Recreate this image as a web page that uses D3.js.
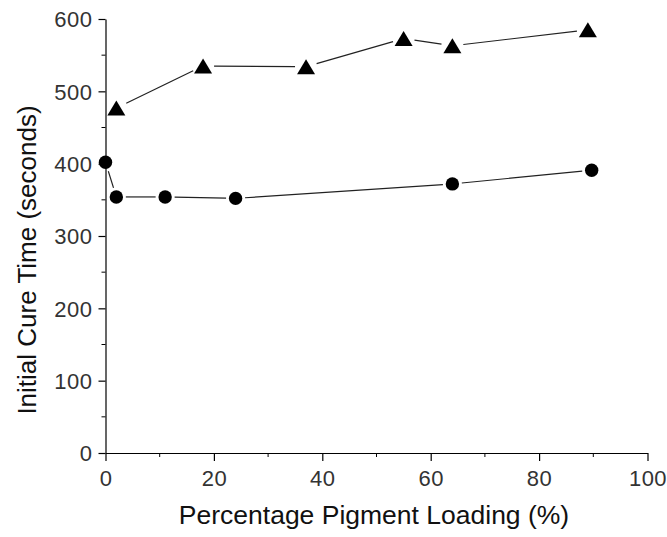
<!DOCTYPE html>
<html>
<head>
<meta charset="utf-8">
<script src="https://cdn.jsdelivr.net/npm/d3@7/dist/d3.min.js"></script>
<style>
  html, body { margin: 0; padding: 0; background: #fff; }
  svg { display: block; }
  text { font-family: "Liberation Sans", Arial, sans-serif; }
</style>
</head>
<body>
<svg id="chart" width="667" height="537"></svg>
<script>
// ---- data ----
const triangleX = [2, 18, 37, 55, 64, 89];
const triangleY = [477, 535, 534, 573, 563, 585];
const circleX = [0, 2, 11, 24, 64, 89.7];
const circleY = [402, 354, 354, 352, 372, 391];
const xTicks = [0, 20, 40, 60, 80, 100];
const xMinorTicks = [10, 30, 50, 70, 90];
const yTicks = [0, 100, 200, 300, 400, 500, 600];
const yMinorTicks = [50, 150, 250, 350, 450, 550];
const xTitle = "Percentage Pigment Loading (%)";
const yTitle = "Initial Cure Time (seconds)";

// ---- layout ----
const svg = d3.select("#chart");
const plotLeft = 105.5, plotRight = 647.5, plotTop = 19, plotBottom = 453;
const x = d3.scaleLinear().domain([0, 100]).range([plotLeft, plotRight]);
const y = d3.scaleLinear().domain([0, 600]).range([plotBottom, plotTop]);

// axes
const xAxis = d3.axisBottom(x).tickValues(xTicks).tickSize(8).tickSizeOuter(0).tickPadding(9);
const yAxis = d3.axisLeft(y).tickValues(yTicks).tickSize(7).tickSizeOuter(0).tickPadding(6);

const gx = svg.append("g").attr("transform", `translate(0,${plotBottom})`).call(xAxis);
const gy = svg.append("g").attr("transform", `translate(${plotLeft},0)`).call(yAxis);

// minor ticks
svg.append("g").selectAll("line").data(xMinorTicks).join("line")
  .attr("x1", d => x(d)).attr("x2", d => x(d))
  .attr("y1", plotBottom).attr("y2", plotBottom + 4)
  .attr("stroke", "#000").attr("stroke-width", 1);
svg.append("g").selectAll("line").data(yMinorTicks).join("line")
  .attr("x1", plotLeft).attr("x2", plotLeft - 4)
  .attr("y1", d => y(d)).attr("y2", d => y(d))
  .attr("stroke", "#000").attr("stroke-width", 1);

[gx, gy].forEach(g => {
  g.select(".domain").attr("stroke", "#000").attr("stroke-width", 1.2);
  g.selectAll(".tick line").attr("stroke", "#000").attr("stroke-width", 1.2);
  g.selectAll(".tick text")
    .attr("font-family", "'Liberation Sans', Arial, sans-serif")
    .attr("font-size", 22)
    .attr("fill", "#333")
    .style("letter-spacing", "0.5px");
});
gx.selectAll(".tick text").attr("dy", "0.71em");
gy.selectAll(".tick text").attr("dy", "0.36em");

// titles
svg.append("text")
  .attr("x", 374).attr("y", 524)
  .attr("text-anchor", "middle")
  .attr("font-size", 26.5)
  .attr("fill", "#111")
  .text(xTitle);
svg.append("text")
  .attr("transform", `translate(36,260) rotate(-90)`)
  .attr("text-anchor", "middle")
  .attr("font-size", 26)
  .attr("fill", "#111")
  .text(yTitle);

// connecting lines with gaps near markers
function drawSegments(xs, ys, gapA, gapB) {
  const pts = xs.map((d, i) => [x(d), y(ys[i])]);
  const segs = [];
  for (let i = 0; i < pts.length - 1; i++) {
    const [x1, y1] = pts[i], [x2, y2] = pts[i + 1];
    const dx = x2 - x1, dy = y2 - y1, L = Math.hypot(dx, dy);
    if (L <= gapA + gapB) continue;
    const ux = dx / L, uy = dy / L;
    segs.push([x1 + ux * gapA, y1 + uy * gapA, x2 - ux * gapB, y2 - uy * gapB]);
  }
  svg.append("g").selectAll("line").data(segs).join("line")
    .attr("x1", d => d[0]).attr("y1", d => d[1])
    .attr("x2", d => d[2]).attr("y2", d => d[3])
    .attr("stroke", "#222").attr("stroke-width", 1.2);
}
drawSegments(triangleX, triangleY, 11, 11);
drawSegments(circleX, circleY, 9.5, 9.5);

// markers
const triW = 18, triH = 15;
svg.append("g").selectAll("path").data(triangleX).join("path")
  .attr("d", (d, i) => {
    const cx = x(d), cy = y(triangleY[i]);
    return `M${cx},${cy - triH / 2}L${cx + triW / 2},${cy + triH / 2}L${cx - triW / 2},${cy + triH / 2}Z`;
  })
  .attr("fill", "#000");
svg.append("g").selectAll("circle").data(circleX).join("circle")
  .attr("cx", d => x(d)).attr("cy", (d, i) => y(circleY[i]))
  .attr("r", 6.7)
  .attr("fill", "#000");
</script>
</body>
</html>
